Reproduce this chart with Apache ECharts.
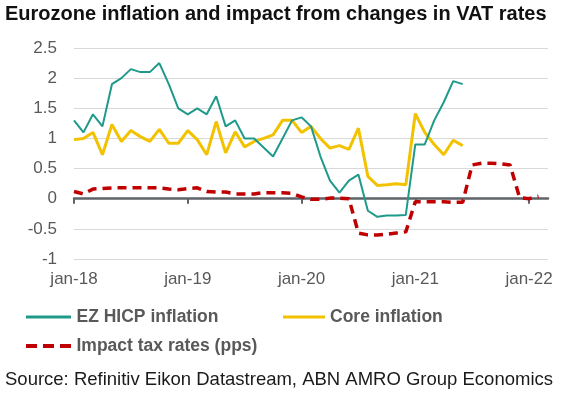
<!DOCTYPE html>
<html>
<head>
<meta charset="utf-8">
<script src="https://cdn.jsdelivr.net/npm/echarts@6/dist/echarts.min.js"></script>
<style>
  html, body { margin: 0; padding: 0; background: #fff; }
  #chart { width: 580px; height: 397px; }
</style>
</head>
<body>
<div id="chart"></div>
<script>
// months jan-18 .. mar-22
var monthNames = ['jan', 'feb', 'mrt', 'apr', 'mei', 'jun', 'jul', 'aug', 'sep', 'okt', 'nov', 'dec'];
var years = ['18', '19', '20', '21', '22'];
var monthCount = 51;

var hicp = [
  1.3, 1.1, 1.4, 1.2, 1.9, 2.0, 2.15, 2.1, 2.1, 2.25, 1.9, 1.5,
  1.4, 1.5, 1.4, 1.7, 1.2, 1.3, 1.0, 1.0, 0.85, 0.7, 1.0, 1.3,
  1.35, 1.2, 0.7, 0.3, 0.1, 0.3, 0.4, -0.2, -0.3, -0.28, -0.28, -0.27,
  0.9, 0.9, 1.3, 1.6, 1.95, 1.9
];
var core = [
  0.98, 1.0, 1.1, 0.73, 1.23, 0.95, 1.13, 1.03, 0.95, 1.15, 0.92, 0.92,
  1.13, 0.98, 0.73, 1.28, 0.76, 1.11, 0.86, 0.95, 1.0, 1.06, 1.3, 1.3,
  1.1, 1.2, 1.0, 0.84, 0.88, 0.82, 1.17, 0.37, 0.22, 0.23, 0.25, 0.23,
  1.41, 1.1, 0.9, 0.73, 0.97, 0.88
];
var taxImpact = [
  0.12, 0.08, 0.16, 0.17, 0.18, 0.18, 0.18, 0.18, 0.18, 0.18, 0.16, 0.15,
  0.17, 0.18, 0.12, 0.11, 0.11, 0.08, 0.08, 0.08, 0.1, 0.1, 0.1, 0.09,
  0.03, -0.01, -0.01, 0.01, 0.01, 0.0, -0.57, -0.6, -0.6, -0.59, -0.57, -0.55,
  -0.05, -0.05, -0.05, -0.05, -0.06, -0.06, 0.56, 0.59, 0.59, 0.58, 0.56, 0.02,
  0.0, 0.04
];

var categories = [];
for (var i = 0; i < monthCount; i++) {
  categories.push(monthNames[i % 12] + '-' + years[Math.floor(i / 12)]);
}

var font = 'Liberation Sans, Arial, sans-serif';
var grey = '#595959';
var everyYear = function (idx) { return idx % 12 === 0; };
var legendText = { fontFamily: font, fontSize: 17.5, fontWeight: 'bold', color: grey };
// plain line icons for the legend (no symbol)
var solidIcon = 'path://M0,0H45V3H0Z';
var dashIcon = 'path://M0,0H11V4H0Z M17,0H28V4H17Z M34,0H45V4H34Z';

var chart = echarts.init(document.getElementById('chart'));
chart.setOption({
  animation: false,
  title: [{
    text: 'Eurozone inflation and impact from changes in VAT rates',
    left: 5, top: 4, padding: 0,
    textStyle: { fontFamily: font, fontSize: 20, fontWeight: 'bold', color: '#111' }
  }, {
    text: 'Source: Refinitiv Eikon Datastream, ABN AMRO Group Economics',
    left: 5, top: 370, padding: 0,
    textStyle: { fontFamily: font, fontSize: 18.5, fontWeight: 'normal', color: '#1a1a1a' }
  }],
  legend: [{
    data: [{ name: 'EZ HICP inflation', icon: solidIcon }],
    left: 26, top: 308, padding: 0, itemWidth: 46, itemHeight: 3,
    textStyle: legendText
  }, {
    data: [{ name: 'Core inflation', icon: solidIcon }],
    left: 283, top: 308, padding: 0, itemWidth: 42, itemHeight: 3,
    textStyle: legendText
  }, {
    data: [{ name: 'Impact tax rates (pps)', icon: dashIcon }],
    left: 26, top: 337, padding: 0, itemWidth: 46, itemHeight: 4,
    textStyle: legendText
  }],
  grid: { left: 74, right: 32, top: 48, bottom: 138 },
  xAxis: [{
    type: 'category',
    data: categories,
    boundaryGap: false,
    position: 'bottom',
    axisLine: { show: false, onZero: false },
    axisTick: { show: false },
    splitLine: { show: false },
    axisLabel: { interval: everyYear, margin: 12, fontFamily: font, fontSize: 17, color: grey }
  }, {
    type: 'category',
    data: categories,
    boundaryGap: false,
    position: 'bottom',
    axisLine: { show: true, onZero: true, lineStyle: { color: '#5f6368', width: 2.5 } },
    axisTick: { show: true, interval: everyYear, length: 5, lineStyle: { color: '#5f6368', width: 2 } },
    axisLabel: { show: false },
    splitLine: { show: false }
  }],
  yAxis: {
    type: 'value',
    min: -1, max: 2.5, interval: 0.5,
    axisLine: { show: false },
    axisTick: { show: false },
    axisLabel: { margin: 17, fontFamily: font, fontSize: 17, color: grey },
    splitLine: { lineStyle: { color: '#d9d9d9', width: 1 } }
  },
  series: [{
    name: 'EZ HICP inflation',
    type: 'line',
    data: hicp,
    symbol: 'none',
    color: '#1f9a8a',
    lineStyle: { width: 2, color: '#1f9a8a' },
    z: 4
  }, {
    name: 'Core inflation',
    type: 'line',
    data: core,
    symbol: 'none',
    color: '#f2c200',
    lineStyle: { width: 3, color: '#f2c200' },
    z: 3
  }, {
    name: 'Impact tax rates (pps)',
    type: 'line',
    data: taxImpact,
    symbol: 'none',
    color: '#c00000',
    lineStyle: { width: 3.5, color: '#c00000', type: [9, 6] },
    z: 2
  }]
});
</script>
</body>
</html>
